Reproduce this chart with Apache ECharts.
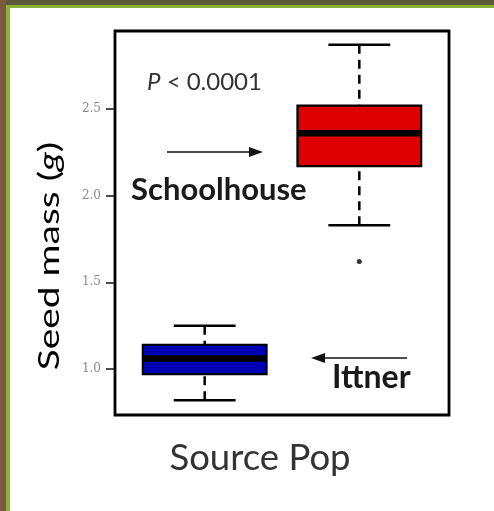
<!DOCTYPE html>
<html>
<head>
<meta charset="utf-8">
<script src="https://cdn.jsdelivr.net/npm/echarts@6/dist/echarts.min.js"></script>
<style>
html,body{margin:0;padding:0;background:#fff;}
#main{width:494px;height:511px;}
</style>
</head>
<body>
<div id="main"></div>
<script>
// ---- data ----
const categories = ['Ittner', 'Schoolhouse'];
const catPositions = [1, 2];
// [min whisker, Q1, median, Q3, max whisker]
const boxStats = [
  [0.82, 0.97, 1.06, 1.14, 1.25],
  [1.83, 2.17, 2.36, 2.52, 2.87]
];
const outliers = [[2, 1.62]];
const boxColors = ['#0000b4', '#dc0000'];
const yTicks = [1.0, 1.5, 2.0, 2.5];

const FONT = 'Lato';
const chart = echarts.init(document.getElementById('main'), null, {renderer: 'canvas'});

const boxData = boxStats.map((s, i) => [catPositions[i]].concat(s).concat([i]));

const option = {
  backgroundColor: '#ffffff',
  animation: false,
  grid: {left: 115, right: 45, top: 31, bottom: 96, show: true, borderColor: '#000', borderWidth: 2.8, backgroundColor: 'transparent'},
  xAxis: {
    type: 'value', min: 0.42, max: 2.58,
    axisLine: {show: false}, axisTick: {show: false}, axisLabel: {show: false}, splitLine: {show: false}
  },
  yAxis: {
    type: 'value', min: 0.7346, max: 2.95,
    axisLine: {show: false},
    splitLine: {show: false},
    axisTick: {show: true, length: 9, lineStyle: {color: '#111', width: 1.5}, customValues: yTicks},
    axisLabel: {show: true, customValues: yTicks, margin: 14, color: '#8a8a8a', fontSize: 12, fontFamily: 'DejaVu Serif',
      formatter: v => Number(v).toFixed(1)}
  },
  graphic: [
    {type: 'rect', left: 0, top: 0, shape: {width: 494, height: 8}, style: {fill: '#5a5a3a'}, z: 10},
    {type: 'rect', left: 0, top: 0, shape: {width: 6, height: 511}, style: {fill: '#7a5a3c'}, z: 10},
    {type: 'rect', left: 6, top: 5, shape: {width: 4, height: 506}, style: {fill: '#8bb236'}, z: 10},
    {type: 'rect', left: 6, top: 5, shape: {width: 488, height: 3}, style: {fill: '#8bb236'}, z: 10},
    {type: 'text', x: 147, y: 82, style: {text: '{i|P} < 0.0001', font: '24px Lato', fill: '#333', verticalAlign: 'middle',
      rich: {i: {fontStyle: 'italic', fontSize: 24, fontFamily: FONT, fill: '#333'}}}, z: 20},
    {type: 'text', x: 131, y: 190, style: {text: 'Schoolhouse', font: 'bold 31px Lato', fill: '#1a1a1a', verticalAlign: 'middle'}, z: 20},
    {type: 'text', x: 332, y: 378, style: {text: 'Ittner', font: 'bold 32px Lato', fill: '#1a1a1a', verticalAlign: 'middle'}, z: 20},
    {type: 'text', x: 260, y: 458, style: {text: 'Source Pop', font: '36.5px Lato', fill: '#333', align: 'center', verticalAlign: 'middle'}, z: 20},
    {type: 'text', x: 50, y: 256, rotation: Math.PI / 2, scaleX: 1.39, style: {text: 'Seed mass ({i|g})', font: '28px Lato', fill: '#000', align: 'center', verticalAlign: 'middle',
      rich: {i: {fontStyle: 'italic', fontSize: 28, fontFamily: FONT, fill: '#000'}}}, z: 20},
    // arrows
    {type: 'line', shape: {x1: 167, y1: 152, x2: 252, y2: 152}, style: {stroke: '#111', lineWidth: 1.6}, z: 20},
    {type: 'polygon', shape: {points: [[263, 152], [249, 147], [249, 157]]}, style: {fill: '#111'}, z: 20},
    {type: 'line', shape: {x1: 407, y1: 358, x2: 322, y2: 358}, style: {stroke: '#111', lineWidth: 1.6}, z: 20},
    {type: 'polygon', shape: {points: [[311, 358], [325, 353], [325, 363]]}, style: {fill: '#111'}, z: 20}
  ],
  series: [
    {
      type: 'custom',
      data: boxData,
      encode: {x: 0, y: [1, 2, 3, 4, 5]},
      renderItem: function (params, api) {
        const x = api.value(0);
        const idx = api.value(6);
        const hw = 0.4, cw = 0.2;
        const p = k => api.coord([x, api.value(k)]);
        const L = api.coord([x - hw, 0])[0], R = api.coord([x + hw, 0])[0];
        const cL = api.coord([x - cw, 0])[0], cR = api.coord([x + cw, 0])[0];
        const cx = api.coord([x, 0])[0];
        const yMin = p(1)[1], yQ1 = p(2)[1], yMed = p(3)[1], yQ3 = p(4)[1], yMax = p(5)[1];
        const dash = {stroke: '#000', lineWidth: 2.5, lineDash: [9, 6]};
        const solid = {stroke: '#000', lineWidth: 2.5};
        return {
          type: 'group',
          children: [
            {type: 'line', shape: {x1: cx, y1: yMax, x2: cx, y2: yQ3}, style: dash},
            {type: 'line', shape: {x1: cx, y1: yMin, x2: cx, y2: yQ1}, style: dash},
            {type: 'line', shape: {x1: cL, y1: yMax, x2: cR, y2: yMax}, style: solid},
            {type: 'line', shape: {x1: cL, y1: yMin, x2: cR, y2: yMin}, style: solid},
            {type: 'rect', shape: {x: L, y: yQ3, width: R - L, height: yQ1 - yQ3}, style: {fill: boxColors[idx], stroke: '#000', lineWidth: 2.2}},
            {type: 'line', shape: {x1: L, y1: yMed, x2: R, y2: yMed}, style: {stroke: '#000', lineWidth: 6.5}}
          ]
        };
      }
    },
    {
      type: 'scatter',
      data: outliers,
      symbol: 'circle',
      symbolSize: 5,
      itemStyle: {color: '#000'}
    }
  ]
};
chart.setOption(option);
</script>
</body>
</html>
